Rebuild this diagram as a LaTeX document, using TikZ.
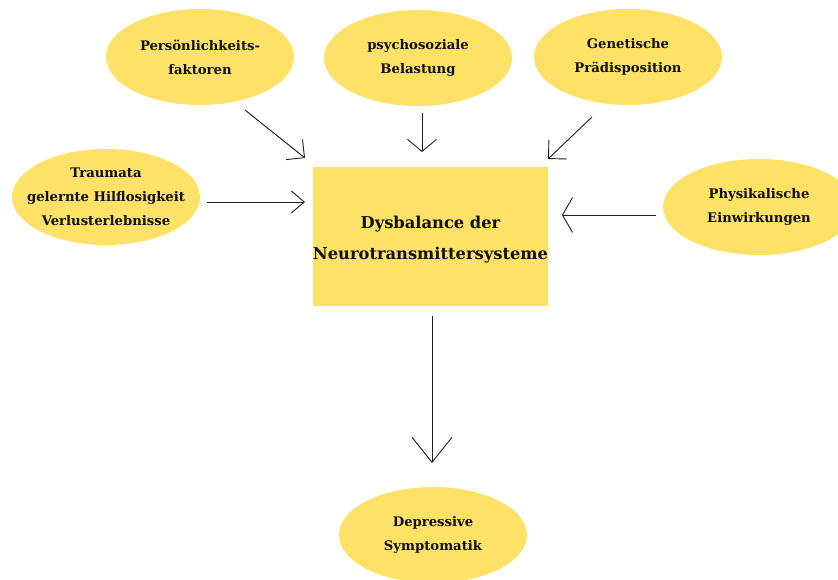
\documentclass[tikz,border=0pt]{standalone}
\usepackage{fontspec}
\setmainfont{DejaVu Serif}
\usetikzlibrary{shapes.geometric,arrows.meta}
\definecolor{ylw}{RGB}{254,226,104}
\definecolor{ln}{RGB}{30,30,30}
\definecolor{txt}{RGB}{15,15,15}
\begin{document}
\begin{tikzpicture}[x=1pt,y=-1pt,
  elli/.style={ellipse,fill=ylw,minimum width=188pt,minimum height=96pt,inner xsep=-22pt,inner ysep=-16pt,align=center,text=txt,font=\bfseries\fontsize{13.2}{24}\selectfont},
  mainbox/.style={rectangle,fill=ylw,minimum width=235pt,minimum height=139pt,inner sep=0pt,align=center,text=txt,font=\bfseries\fontsize{16.3}{31}\selectfont},
  arr/.style={draw=ln,line width=0.9pt,-{Straight Barb[#1]}}]
\clip (0,0) rectangle (838,580);
\node[elli] (pers) at (200,57) {Persönlichkeits-\\faktoren};
\node[elli] (psy) at (418,58) {psychosoziale\\Belastung};
\node[elli] (gen) at (628,57) {Genetische\\Prädisposition};
\node[elli] (trau) at (106,197) {Traumata\\gelernte Hilflosigkeit\\Verlusterlebnisse};
\node[elli,minimum width=192pt] (phys) at (759,207) {Physikalische\\Einwirkungen};
\node[elli] (dep) at (433,535) {Depressive\\Symptomatik};
\node[mainbox] (dys) at (430.5,236.5) {\rule{0pt}{18pt}Dysbalance der\\Neurotransmittersysteme};
\coordinate (a1s) at (245,110); \coordinate (a1e) at (305,158);
\coordinate (a2s) at (422,113); \coordinate (a2e) at (422,152);
\coordinate (a3s) at (592,117); \coordinate (a3e) at (548,159);
\coordinate (a4s) at (207,202); \coordinate (a4e) at (305,202);
\coordinate (a5s) at (656,215); \coordinate (a5e) at (562,215);
\coordinate (a6s) at (432,316); \coordinate (a6e) at (432,463);
\draw[arr={length=13pt,width=26pt}] (a1s) -- (a1e);
\draw[arr={length=12pt,width=29pt}] (a2s) -- (a2e);
\draw[arr={length=13pt,width=26pt}] (a3s) -- (a3e);
\draw[arr={length=13pt,width=22pt}] (a4s) -- (a4e);
\draw[arr={length=10pt,width=35pt}] (a5s) -- (a5e);
\draw[arr={length=25pt,width=40pt}] (a6s) -- (a6e);
\end{tikzpicture}
\end{document}
